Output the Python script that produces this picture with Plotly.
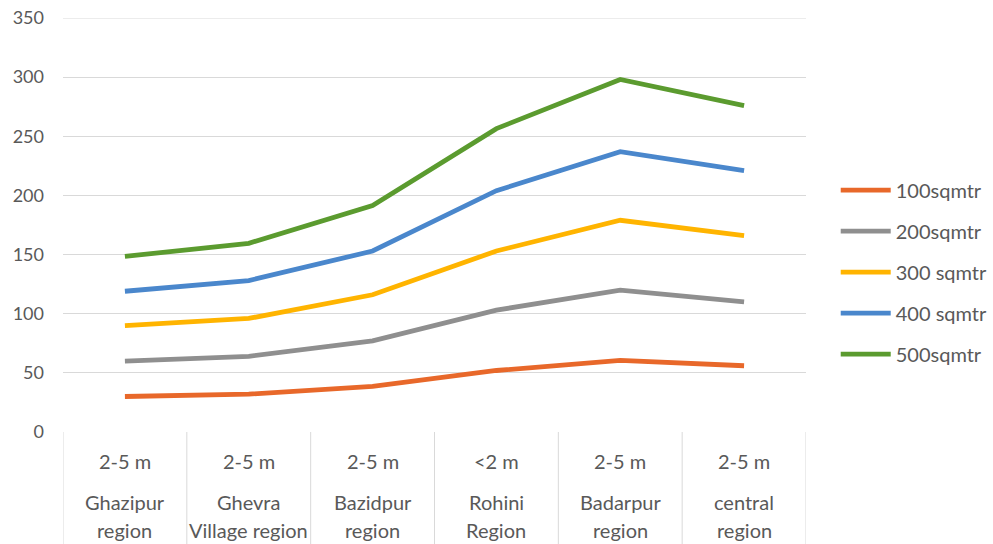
import plotly.graph_objects as go

# Category axis: depth band on the first row, region name below
depths = ["2-5 m", "2-5 m", "2-5 m", "<2 m", "2-5 m", "2-5 m"]
regions = ["Ghazipur<br>region", "Ghevra<br>Village region", "Bazidpur<br>region",
           "Rohini<br>Region", "Badarpur<br>region", "central<br>region"]

series_names = ["100sqmtr", "200sqmtr", "300 sqmtr", "400 sqmtr", "500sqmtr"]
s100 = [30, 32, 38.5, 52, 60.5, 56]
s200 = [60, 64, 77, 103, 120, 110]
s300 = [90, 96, 116, 153, 179, 166]
s400 = [119, 128, 153, 204, 237, 221]
s500 = [148.5, 159.5, 191.5, 256.5, 298, 276]
series_values = [s100, s200, s300, s400, s500]
colors = ["#E8682A", "#8F8F8F", "#FFB400", "#4A87CC", "#5B9B2F"]

y_ticks = [0, 50, 100, 150, 200, 250, 300, 350]

TXT = "#595959"
GRID = "#D9D9D9"
FONT = "Lato"

x_idx = list(range(len(depths)))

fig = go.Figure()
for name, vals, col in zip(series_names, series_values, colors):
    fig.add_trace(go.Scatter(
        x=x_idx, y=vals, name=name, mode="lines",
        line=dict(color=col, width=4.8),
        legendgroup=name,
    ))

# Category table below the plot area
band = -112 / 414
shapes = []
for i in range(len(depths) + 1):
    shapes.append(dict(type="line", xref="x", yref="paper",
                       x0=i - 0.5, x1=i - 0.5, y0=0, y1=band,
                       line=dict(color=GRID, width=1)))
# top gridline at the axis maximum
shapes.append(dict(type="line", xref="paper", yref="y", x0=0, x1=1,
                   y0=y_ticks[-1], y1=y_ticks[-1], layer="below",
                   line=dict(color=GRID, width=1)))

annotations = []
for i, (d, r) in enumerate(zip(depths, regions)):
    annotations.append(dict(x=i, y=0, xref="x", yref="paper", text=d,
                            showarrow=False, yanchor="middle", yshift=-29,
                            font=dict(family=FONT, size=20, color=TXT)))
    for k, line in enumerate(r.split("<br>")):
        annotations.append(dict(x=i, y=0, xref="x", yref="paper", text=line,
                                showarrow=False, yanchor="middle",
                                yshift=-70 - 28 * k,
                                font=dict(family=FONT, size=20, color=TXT)))

fig.update_layout(
    width=993, height=544,
    margin=dict(l=63, r=187, t=18, b=112, autoexpand=False),
    paper_bgcolor="white", plot_bgcolor="white",
    font=dict(family=FONT, color=TXT, size=18),
    showlegend=True,
    legend=dict(x=1.040, xanchor="left", y=0.386, yanchor="middle",
                font=dict(family=FONT, size=20, color=TXT),
                tracegroupgap=12, itemwidth=50,
                bgcolor="rgba(0,0,0,0)"),
    xaxis=dict(range=[-0.5, len(depths) - 0.5], showticklabels=False,
               showgrid=False, zeroline=False, showline=False, ticks=""),
    yaxis=dict(range=[0, 350], tickvals=y_ticks, showgrid=True,
               gridcolor=GRID, gridwidth=1, zeroline=False, showline=False,
               ticks="", ticklabelstandoff=18,
               tickfont=dict(family=FONT, size=18, color=TXT)),
    shapes=shapes,
    annotations=annotations,
)

fig.write_html("out.html")
